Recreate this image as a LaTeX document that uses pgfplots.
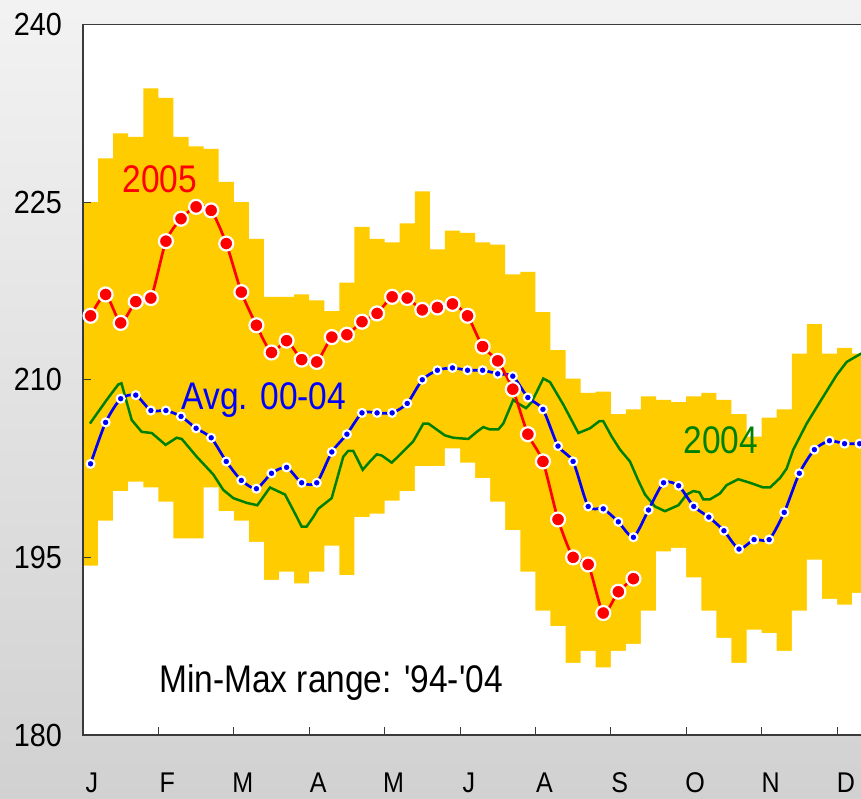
\documentclass[border=0pt]{standalone}
\usepackage{pgfplots}
\pgfplotsset{compat=1.18}
\usepackage{fontspec}
\setmainfont{Liberation Sans}
\definecolor{bandyellow}{HTML}{FFCC00}
\definecolor{avgblue}{HTML}{0000FF}
\definecolor{yrgreen}{HTML}{008000}
\definecolor{framegray}{HTML}{3A3A3A}

% min-max range '94-'04, one step per week (last row closes the step)
\pgfplotstableread{
x hi lo
0 225.0 194.3
1 228.7 198.1
2 230.8 200.6
3 230.5 201.4
4 234.6 200.9
5 233.8 199.7
6 230.5 196.6
7 229.7 196.6
8 229.5 200.9
9 226.7 198.9
10 225.0 198.1
11 221.9 196.3
12 217.0 193.1
13 217.0 193.8
14 217.2 192.8
15 216.7 193.8
16 215.8 196.0
17 218.2 193.5
18 222.9 198.4
19 221.9 198.7
20 221.6 199.8
21 223.2 200.6
22 225.9 202.7
23 221.0 202.7
24 222.6 204.2
25 222.4 203.0
26 221.6 201.7
27 221.4 199.7
28 218.9 197.3
29 219.1 193.8
30 215.7 190.5
31 212.5 189.2
32 210.1 186.1
33 208.9 187.1
34 209.0 185.7
35 207.1 187.1
36 207.5 187.7
37 208.6 190.5
38 208.3 195.5
39 208.1 195.8
40 208.6 193.3
41 208.9 190.5
42 208.3 188.2
43 207.1 186.1
44 205.2 188.9
45 206.8 188.6
46 207.5 187.1
47 212.2 190.5
48 214.7 194.8
49 212.2 191.5
50 212.7 191.0
51 212.2 192.0
52 212.2 192.0
}\bandtab

% 2005, weekly
\pgfplotstableread{
x y
0.5 215.4
1.5 217.2
2.5 214.8
3.5 216.6
4.5 216.9
5.5 221.7
6.5 223.6
7.5 224.6
8.5 224.3
9.5 221.5
10.5 217.4
11.5 214.6
12.5 212.3
13.5 213.3
14.5 211.7
15.5 211.5
16.5 213.6
17.5 213.8
18.5 214.9
19.5 215.6
20.5 217.0
21.5 216.9
22.5 215.9
23.5 216.1
24.5 216.4
25.5 215.4
26.5 212.8
27.5 211.6
28.5 209.2
29.5 205.4
30.5 203.1
31.5 198.2
32.5 195.0
33.5 194.4
34.5 190.3
35.5 192.1
36.5 193.2
}\fivetab

% average 00-04, weekly
\pgfplotstableread{
x y
0.5 202.9
1.5 206.4
2.5 208.4
3.5 208.7
4.5 207.4
5.5 207.4
6.5 206.9
7.5 205.9
8.5 205.1
9.5 203.1
10.5 201.5
11.5 200.8
12.5 202.1
13.5 202.6
14.5 201.3
15.5 201.3
16.5 203.9
17.5 205.4
18.5 207.2
19.5 207.2
20.5 207.2
21.5 208.0
22.5 210.0
23.5 210.8
24.5 211.0
25.5 210.8
26.5 210.8
27.5 210.5
28.5 210.3
29.5 208.5
30.5 207.5
31.5 204.4
32.5 203.1
33.5 199.3
34.5 199.1
35.5 198.0
36.5 196.7
37.5 199.0
38.5 201.3
39.5 201.05
40.5 199.3
41.5 198.4
42.5 197.25
43.5 195.7
44.5 196.5
45.5 196.5
46.5 198.8
47.5 202.1
48.5 204.1
49.5 204.85
50.5 204.6
51.5 204.6
}\avgtab

% 2004
\pgfplotstableread{
x y
0.46 206.3
1.57 208.3
2.34 209.6
2.55 209.7
3.23 206.6
3.89 205.6
4.56 205.5
5.48 204.5
6.21 205.1
6.55 205.0
7.54 203.5
8.64 202.0
9.30 200.7
9.97 200.0
10.86 199.6
11.56 199.4
12.40 200.9
13.40 200.3
14.06 198.7
14.50 197.6
14.83 197.6
15.27 198.4
15.60 199.1
16.49 200.0
16.71 201.0
17.26 203.5
17.59 204.0
17.92 204.0
18.55 202.4
19.03 203.1
19.48 203.7
19.81 203.6
20.47 203.0
20.80 203.4
21.90 204.8
22.57 206.3
22.90 206.3
24.00 205.3
24.56 205.1
25.55 205.0
26.11 205.6
26.54 206.0
26.99 205.8
27.54 205.8
27.87 206.3
28.53 208.3
28.98 207.9
29.38 207.6
29.75 208.1
30.52 210.1
30.97 209.8
31.85 207.9
32.85 205.5
33.62 205.9
34.24 206.5
34.50 206.5
35.06 205.2
35.61 204.1
36.27 203.1
36.82 201.5
37.27 200.3
37.93 199.3
38.59 198.9
39.48 199.4
40.03 200.3
40.47 200.6
40.87 200.5
41.13 199.9
41.58 199.9
42.24 200.4
42.68 201.1
43.45 201.6
44.23 201.3
45.11 200.9
45.56 200.9
46.22 201.7
46.66 202.5
47.10 204.1
47.99 206.3
48.76 207.9
49.54 209.5
49.98 210.4
50.64 211.5
51.31 212.0
51.59 212.2
52.00 212.4
}\fourtab

\begin{document}
\begin{tikzpicture}
\shade[top color=black!5, bottom color=black!18] (0pt,0pt) rectangle (861pt,799pt);
\begin{axis}[
  at={(83pt,64pt)}, anchor=south west,
  scale only axis,
  width=784.16pt, height=710.52pt,
  xmin=0, xmax=52, ymin=180, ymax=240,
  axis background/.style={fill=white},
  axis line style={framegray, line width=1.6pt},
  tick pos=left, tick align=inside,
  major tick length=8pt,
  tick style={framegray, line width=1pt},
  xtick={0,5,...,50},
  xticklabels={J,F,M,A,M,J,A,S,O,N,D},
  ytick={180,195,...,240},
  /pgf/number format/assume math mode=true,
  yticklabel style={anchor=east, inner sep=0pt, xshift=-21pt, xscale=0.9,
    font=\fontsize{32}{34}\selectfont},
  xticklabel style={anchor=center, inner sep=0pt, yshift=-48pt, xshift=9pt,
    xscale=0.88, font=\fontsize{28.5}{30}\selectfont},
  axis on top,
]
% band: yellow up to the maximum, white again below the minimum
\addplot[fill=bandyellow, draw=none, const plot] table[x=x, y=hi]{\bandtab} \closedcycle;
\addplot[fill=white, draw=none, const plot] table[x=x, y=lo]{\bandtab} \closedcycle;

\addplot[yrgreen, line width=2.5pt, no marks] table[x=x, y=y]{\fourtab};

\addplot[avgblue, line width=2.7pt, smooth, tension=0.4,
  mark=*, mark size=4pt,
  mark options={fill=avgblue, draw=white, line width=2.1pt}]
  table[x=x, y=y]{\avgtab};

\addplot[red, line width=2.7pt, smooth, tension=0.4,
  mark=*, mark size=7pt,
  mark options={fill=red, draw=white, line width=2.2pt}]
  table[x=x, y=y]{\fivetab};

\node[text=red, anchor=base, xscale=0.87, font=\fontsize{38.5}{40}\selectfont]
  at (axis cs:5.1,225.77) {2005};
\node[text=avgblue, anchor=base, xscale=0.87, font=\fontsize{38.5}{40}\selectfont]
  at (axis cs:12.0,207.45) {Avg. 00-04};
\node[text=yrgreen, anchor=base, xscale=0.87, font=\fontsize{38.5}{40}\selectfont]
  at (axis cs:42.3,203.73) {2004};
\node[text=black, anchor=base, xscale=0.87, font=\fontsize{38.5}{40}\selectfont]
  at (axis cs:16.45,183.63) {Min-Max range: \textquotesingle 94-\textquotesingle 04};
\end{axis}
\pgfresetboundingbox
\path[use as bounding box] (0pt,0pt) rectangle (861pt,799pt);
\end{tikzpicture}
\end{document}
